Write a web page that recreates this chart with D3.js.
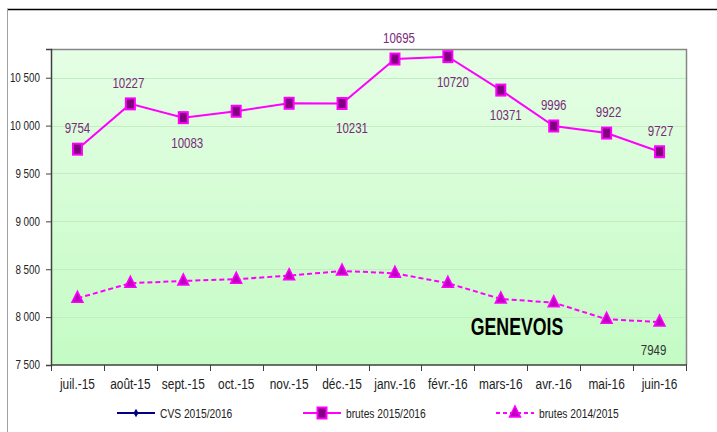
<!DOCTYPE html>
<html>
<head>
<meta charset="utf-8">
<script src="https://cdn.jsdelivr.net/npm/d3@7"></script>
<style>
  body { margin: 0; background: #fff; }
  svg { display: block; }
  text { font-family: "Liberation Sans", Arial, sans-serif; }
</style>
</head>
<body>
<div id="chart"></div>
<script>
// Data
var months = ["juil.-15", "août-15", "sept.-15", "oct.-15", "nov.-15", "déc.-15",
              "janv.-16", "févr.-16", "mars-16", "avr.-16", "mai-16", "juin-16"];
var brutes1516 = [9754, 10227, 10083, 10150, 10233, 10231, 10695, 10720, 10371, 9996, 9922, 9727];
var brutes1415 = [8197, 8354, 8378, 8396, 8433, 8482, 8458, 8354, 8190, 8151, 7978, 7949];
var yTicks = [7500, 8000, 8500, 9000, 9500, 10000, 10500];
var seriesNames = ["CVS 2015/2016", "brutes 2015/2016", "brutes 2014/2015"];

// SVG area
var svgWidth = 717;
var svgHeight = 432;

var plot = { left: 51, top: 49, right: 686, bottom: 365 };

var svg = d3.select("#chart")
    .append("svg")
    .attr("width", svgWidth)
    .attr("height", svgHeight);

// background gradient of the plot area
var defs = svg.append("defs");
var grad = defs.append("linearGradient")
    .attr("id", "bg")
    .attr("x1", 0).attr("y1", 0).attr("x2", 0).attr("y2", 1);
grad.append("stop").attr("offset", "0%").attr("stop-color", "#e5fee5");
grad.append("stop").attr("offset", "100%").attr("stop-color", "#c4fbc4");

// outer frame lines
svg.append("line")
    .attr("x1", 7).attr("x2", svgWidth).attr("y1", 9.5).attr("y2", 9.5)
    .attr("stroke", "#000").attr("stroke-width", 1.5);
svg.append("line")
    .attr("x1", 7.5).attr("x2", 7.5).attr("y1", 9).attr("y2", svgHeight)
    .attr("stroke", "#a0a0a0").attr("stroke-width", 1);

// scales
var x = d3.scaleBand()
    .domain(months)
    .range([plot.left, plot.right])
    .padding(0);

var y = d3.scaleLinear()
    .domain([7500, 10800])
    .range([plot.bottom, plot.top]);

var cx = function(m) { return x(m) + x.bandwidth() / 2; };

// plot background
svg.append("rect")
    .attr("x", plot.left).attr("y", plot.top)
    .attr("width", plot.right - plot.left)
    .attr("height", plot.bottom - plot.top)
    .attr("fill", "url(#bg)");

// gridlines
svg.append("g")
    .selectAll("line")
    .data(yTicks.slice(1))
    .enter()
    .append("line")
    .attr("x1", plot.left).attr("x2", plot.right)
    .attr("y1", d => Math.round(y(d)) + 0.5).attr("y2", d => Math.round(y(d)) + 0.5)
    .attr("stroke", "#c2efc2").attr("stroke-width", 1);

// top / right border of plot
svg.append("path")
    .attr("d", `M${plot.left},${plot.top + 0.5}H${plot.right + 0.5}V${plot.bottom}`)
    .attr("fill", "none").attr("stroke", "#868686").attr("stroke-width", 1.5);

// y axis
var leftAxis = d3.axisLeft(y)
    .tickValues(yTicks)
    .tickSize(5)
    .tickPadding(6)
    .tickFormat(d => d3.format(",")(d).replace(",", " "));

var yAxisG = svg.append("g")
    .attr("transform", `translate(${plot.left}, 0)`)
    .call(leftAxis);
yAxisG.select(".domain").attr("stroke", "#404040").attr("stroke-width", 1.5);
yAxisG.selectAll(".tick line").attr("stroke", "#404040");
yAxisG.selectAll("text")
    .attr("font-size", 12)
    .attr("fill", "#222");

// x axis: labels at band centres, ticks at band edges
var bottomAxis = d3.axisBottom(x).tickSize(0).tickPadding(14);
var xAxisG = svg.append("g")
    .attr("transform", `translate(0, ${plot.bottom})`)
    .call(bottomAxis);
xAxisG.select(".domain").remove();
xAxisG.selectAll("text")
    .attr("font-size", 14.5)
    .attr("fill", "#222");

svg.append("line")
    .attr("x1", plot.left).attr("x2", plot.right + 1)
    .attr("y1", plot.bottom).attr("y2", plot.bottom)
    .attr("stroke", "#404040").attr("stroke-width", 1.5);

svg.append("g")
    .selectAll("line")
    .data(months.concat(["end"]))
    .enter()
    .append("line")
    .attr("x1", d => d === "end" ? plot.right + 0.5 : Math.round(x(d)) + 0.5)
    .attr("x2", d => d === "end" ? plot.right + 0.5 : Math.round(x(d)) + 0.5)
    .attr("y1", plot.bottom).attr("y2", plot.bottom + 6)
    .attr("stroke", "#404040");

// lines
var magenta = "#ff00ff";
var purple = "#800080";

var line = d3.line()
    .x((d, i) => cx(months[i]))
    .y(d => y(d));

svg.append("path")
    .datum(brutes1415)
    .attr("d", line)
    .attr("fill", "none")
    .attr("stroke", magenta)
    .attr("stroke-width", 2)
    .attr("stroke-dasharray", "5,3");

svg.append("path")
    .datum(brutes1516)
    .attr("d", line)
    .attr("fill", "none")
    .attr("stroke", magenta)
    .attr("stroke-width", 2);

// markers
function triangle(g, px, py) {
    g.append("path")
        .attr("d", `M${px},${py - 7}L${px + 5.5},${py + 4}L${px - 5.5},${py + 4}Z`)
        .attr("fill", "#c000c0")
        .attr("stroke", magenta)
        .attr("stroke-width", 1.5);
}
function square(g, px, py) {
    g.append("rect")
        .attr("x", px - 4.5).attr("y", py - 5.5)
        .attr("width", 9).attr("height", 11)
        .attr("fill", purple)
        .attr("stroke", magenta)
        .attr("stroke-width", 2);
}

var markG = svg.append("g");
brutes1415.forEach(function(v, i) { triangle(markG, cx(months[i]), y(v)); });
brutes1516.forEach(function(v, i) { square(markG, cx(months[i]), y(v)); });

// data labels
var labelPlace = ["above", "above", "below", null, null, "below",
                  "above", "below", "below", "above", "above", "above"];
var labelShift = [0, -2, 4, 0, 0, 10, 4, 5, 5, 0, 2, 1];

brutes1516.forEach(function(v, i) {
    if (labelPlace[i] === null) return;
    svg.append("text")
        .attr("x", cx(months[i]) + labelShift[i])
        .attr("y", labelPlace[i] === "above" ? y(v) - 16 : y(v) + 30)
        .attr("text-anchor", "middle")
        .attr("font-size", 14)
        .attr("fill", "#7a2a7a")
        .text(v);
});

svg.append("text")
    .attr("x", cx(months[11]) - 6)
    .attr("y", y(brutes1415[11]) + 33)
    .attr("text-anchor", "middle")
    .attr("font-size", 14)
    .attr("fill", "#333")
    .text(brutes1415[11]);

// title inside chart
svg.append("text")
    .attr("class", "title")
    .attr("x", 517)
    .attr("y", 335)
    .attr("text-anchor", "middle")
    .attr("font-size", 23)
    .attr("font-weight", "bold")
    .attr("fill", "#000")
    .text("GENEVOIS");

// legend
var legendY = 413;
var legendItems = [
    { x: 117, name: seriesNames[0] },
    { x: 303, name: seriesNames[1] },
    { x: 496, name: seriesNames[2] }
];
var legendG = svg.append("g");
legendItems.forEach(function(item, i) {
    var lx = item.x;
    var ln = legendG.append("line")
        .attr("x1", lx).attr("x2", lx + 38)
        .attr("y1", legendY).attr("y2", legendY)
        .attr("stroke", i === 0 ? "#000080" : magenta)
        .attr("stroke-width", 2);
    if (i === 2) ln.attr("stroke-dasharray", "4,3");
    if (i === 0) {
        legendG.append("path")
            .attr("d", d3.symbol(d3.symbolDiamond, 22)())
            .attr("transform", `translate(${lx + 19}, ${legendY})`)
            .attr("fill", "#000080");
    } else if (i === 1) {
        square(legendG, lx + 19, legendY);
    } else {
        triangle(legendG, lx + 19, legendY);
    }
    legendG.append("text")
        .attr("x", lx + 43)
        .attr("y", legendY + 4.5)
        .attr("font-size", 12.5)
        .attr("fill", "#222")
        .text(item.name);
});

// narrow the text horizontally (no narrow font available)
svg.selectAll("text").each(function() {
    var t = d3.select(this);
    var k = t.classed("title") ? 0.77 : 0.82;
    var tx = +t.attr("x") || 0;
    var ty = +t.attr("y") || 0;
    t.attr("x", 0).attr("y", 0)
        .attr("transform", `translate(${tx}, ${ty}) scale(${k}, 1)`);
});
</script>
</body>
</html>
